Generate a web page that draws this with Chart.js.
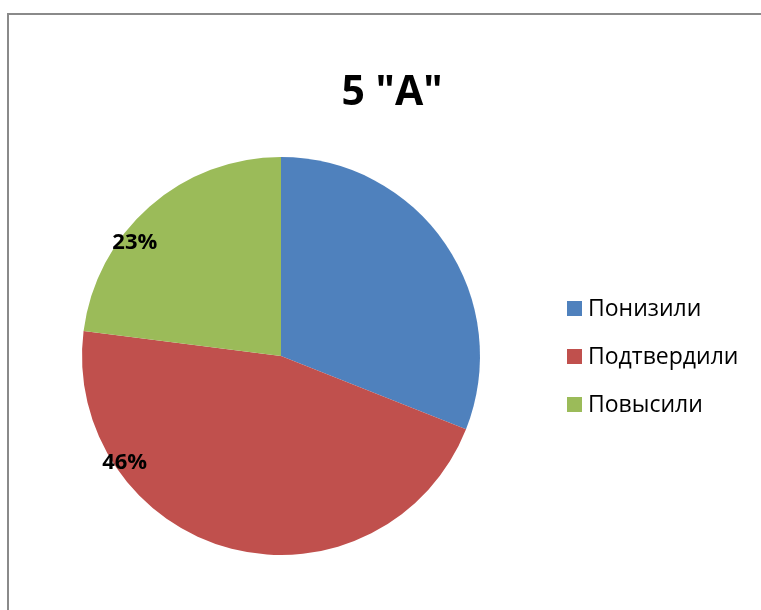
<!DOCTYPE html>
<html>
<head>
<meta charset="utf-8">
<script src="https://cdn.jsdelivr.net/npm/chart.js@4.4.0/dist/chart.umd.min.js"></script>
<style>
    body { margin: 0; background: #ffffff; }
    #wrap { position: relative; width: 761px; height: 610px; overflow: hidden; }
    #frame {
        position: absolute; left: 7px; top: 13px; width: 800px; height: 700px;
        border-left: 2px solid #8a8a8a; border-top: 2px solid #8a8a8a;
    }
    canvas { position: absolute; left: 0; top: 0; }
</style>
</head>
<body>
<div id="wrap">
    <div id="frame"></div>
    <canvas id="pieChart" width="761" height="610"></canvas>
</div>
<script>
// Chart data
var chartTitle = '5 "A"';
var categories = ['Понизили', 'Подтвердили', 'Повысили'];
var values = [31, 46, 23];
var sliceColors = ['#4F81BD', '#C0504D', '#9BBB59'];
var showLabel = [false, true, true];

// Draws title, legend and percentage labels in the Excel-like places
var excelDecor = {
    id: 'excelDecor',
    afterDatasetsDraw: function(chart, args, opts) {
        var ctx = chart.ctx;
        var meta = chart.getDatasetMeta(0);
        var total = values.reduce(function(a, b) { return a + b; }, 0);
        ctx.save();

        // percentage labels
        ctx.fillStyle = '#000000';
        ctx.font = 'bold 22px "Open Sans"';
        ctx.textAlign = 'center';
        ctx.textBaseline = 'middle';
        meta.data.forEach(function(arc, i) {
            if (!showLabel[i]) return;
            var p = arc.getProps(['x', 'y', 'startAngle', 'endAngle', 'outerRadius'], true);
            var pos = opts.labelAt[i];
            var a = p.startAngle + (p.endAngle - p.startAngle) * pos.t;
            var r = p.outerRadius * pos.r;
            var txt = Math.round(values[i] / total * 100) + '%';
            ctx.fillText(txt, p.x + Math.cos(a) * r, p.y + Math.sin(a) * r);
        });

        // title
        ctx.font = 'bold 41px "Open Sans"';
        ctx.fillText(chartTitle, 392, 93);

        // legend
        ctx.font = '23px "Open Sans"';
        ctx.textAlign = 'left';
        categories.forEach(function(name, i) {
            var y = 301 + i * 48;
            ctx.fillStyle = sliceColors[i];
            ctx.fillRect(567, y, 15, 15);
            ctx.fillStyle = '#000000';
            ctx.fillText(name, 588, y + 8);
        });
        ctx.restore();
    }
};

var pieCtx = document.getElementById('pieChart').getContext('2d');
var pieChart = new Chart(pieCtx, {
    type: 'pie',
    data: {
        labels: categories,
        datasets: [{
            data: values,
            backgroundColor: sliceColors,
            borderWidth: 0,
            hoverOffset: 0
        }]
    },
    options: {
        responsive: false,
        animation: false,
        layout: {
            padding: { left: 82, right: 281, top: 157, bottom: 55 }
        },
        plugins: {
            legend: { display: false },
            tooltip: { enabled: false },
            excelDecor: {
                labelAt: [null, { t: 0.75, r: 0.95 }, { t: 0.37, r: 0.93 }]
            }
        }
    },
    plugins: [excelDecor]
});
</script>
</body>
</html>
